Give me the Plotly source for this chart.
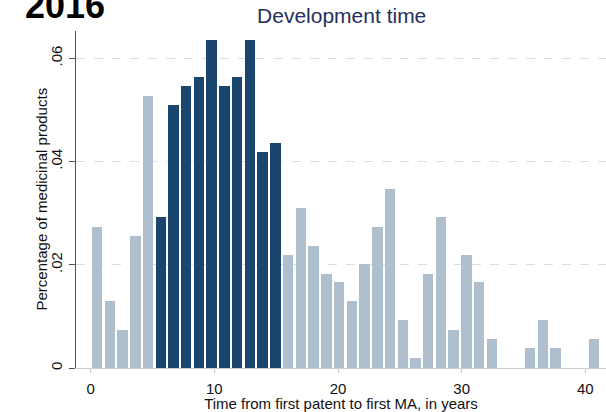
import plotly.graph_objects as go

# histogram of development time (years), 40 bins starting at 0
bin_start = 0.0
bin_width = 1.03
density = [0.0274, 0.0129, 0.0074, 0.0255, 0.0528, 0.0292, 0.0509, 0.0546, 0.0564, 0.0636,
           0.0546, 0.0564, 0.0636, 0.0419, 0.0436, 0.0219, 0.0310, 0.0237, 0.0183, 0.0166,
           0.0129, 0.0202, 0.0274, 0.0347, 0.0093, 0.0020, 0.0183, 0.0292, 0.0074, 0.0219,
           0.0166, 0.0056, 0.0, 0.0, 0.0038, 0.0093, 0.0038, 0.0, 0.0, 0.0056]
# bins highlighted in dark
highlight_bins = list(range(5, 15))

x_ticks = [0, 10, 20, 30, 40]
y_ticks = [0, 0.02, 0.04, 0.06]
y_ticktext = ["0", ".02", ".04", ".06"]

light = "#b0bfce"
dark = "#1a466e"
font_family = "Liberation Sans, Arial, sans-serif"

centers = [bin_start + (i + 0.5) * bin_width for i in range(len(density))]
colors = [dark if i in highlight_bins else light for i in range(len(density))]

fig = go.Figure()
fig.add_trace(go.Bar(
    x=centers,
    y=density,
    width=bin_width * 0.82,
    marker=dict(color=colors, line=dict(width=0)),
    showlegend=False,
    hoverinfo="x+y",
))

fig.update_layout(
    width=606,
    height=412,
    margin=dict(l=76, r=0, t=31, b=40),
    paper_bgcolor="white",
    plot_bgcolor="white",
    font=dict(family=font_family, size=15, color="#111111"),
    title=dict(
        text="Development time",
        x=0.5013, xref="paper", xanchor="center",
        y=1 - 15.5 / 412, yref="container", yanchor="middle",
        font=dict(family=font_family, size=21, color="#1f2f5c"),
    ),
    annotations=[
        dict(
            text="<b>2016</b>",
            xref="paper", yref="paper",
            x=(22.7 - 76) / 530, y=(372 - 4.8) / 341,
            xanchor="left", yanchor="middle",
            showarrow=False,
            font=dict(family=font_family, size=36, color="black"),
        ),
        # y-axis title, placed by hand to sit close to the tick labels
        dict(
            text="Percentage of medicinal products",
            xref="paper", yref="paper",
            x=(41 - 76) / 530, y=0.5,
            xanchor="center", yanchor="middle",
            textangle=-90,
            showarrow=False,
            font=dict(family=font_family, size=15, color="#111111"),
        ),
    ],
    bargap=0,
)

fig.update_xaxes(
    range=[-1.19, 41.67],
    tickvals=x_ticks,
    ticks="outside", ticklen=4, tickcolor="#c8c8c8", tickwidth=1,
    ticklabelstandoff=3,
    showline=True, linecolor="#cfcfcf", linewidth=1,
    showgrid=False, zeroline=False,
    title=dict(text="Time from first patent to first MA, in years", standoff=4,
               font=dict(size=15)),
)

fig.update_yaxes(
    range=[0, 0.0653],
    tickvals=y_ticks, ticktext=y_ticktext,
    tickangle=-90,
    ticks="outside", ticklen=6, tickcolor="#555555", tickwidth=1,
    ticklabelstandoff=1,
    showline=True, linecolor="#555555", linewidth=1,
    showgrid=True, gridcolor="#dddddd", griddash="dash", gridwidth=1,
    zeroline=False,
)

# the page's default body margin would shift the figure by 8px
fig.write_html("out.html", config={"displayModeBar": False},
               post_script="document.body.style.margin='0';")
